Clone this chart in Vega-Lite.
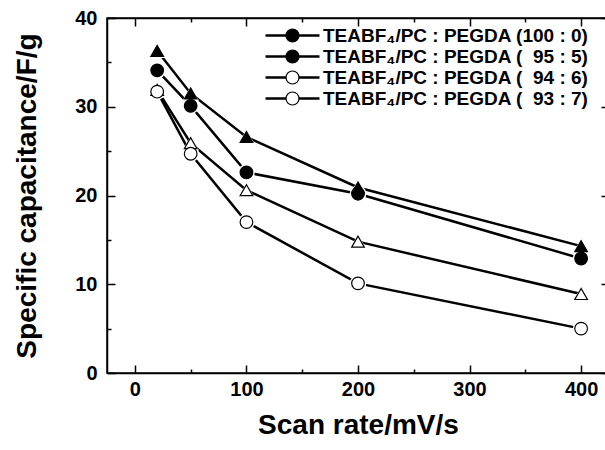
{
  "$schema": "https://vega.github.io/schema/vega-lite/v6.json",
  "autosize": "none",
  "width": 502,
  "height": 355,
  "padding": {"left": 107, "top": 18, "right": 0, "bottom": 77},
  "background": "white",
  "config": {
    "font": "Liberation Sans",
    "view": {"stroke": "black", "strokeWidth": 1.5}
  },
  "data": {
    "values": [
      {"s": "TEABF₄/PC : PEGDA (100 : 0)", "x": 20, "y": 36.3},
      {"s": "TEABF₄/PC : PEGDA (100 : 0)", "x": 50, "y": 31.5},
      {"s": "TEABF₄/PC : PEGDA (100 : 0)", "x": 100, "y": 26.6},
      {"s": "TEABF₄/PC : PEGDA (100 : 0)", "x": 200, "y": 20.9},
      {"s": "TEABF₄/PC : PEGDA (100 : 0)", "x": 400, "y": 14.3},
      {"s": "TEABF₄/PC : PEGDA (\u00a0\u00a095 : 5)", "x": 20, "y": 34.1},
      {"s": "TEABF₄/PC : PEGDA (\u00a0\u00a095 : 5)", "x": 50, "y": 30.1},
      {"s": "TEABF₄/PC : PEGDA (\u00a0\u00a095 : 5)", "x": 100, "y": 22.6},
      {"s": "TEABF₄/PC : PEGDA (\u00a0\u00a095 : 5)", "x": 200, "y": 20.2},
      {"s": "TEABF₄/PC : PEGDA (\u00a0\u00a095 : 5)", "x": 400, "y": 12.9},
      {"s": "TEABF₄/PC : PEGDA (\u00a0\u00a094 : 6)", "x": 20, "y": 31.9},
      {"s": "TEABF₄/PC : PEGDA (\u00a0\u00a094 : 6)", "x": 50, "y": 25.9},
      {"s": "TEABF₄/PC : PEGDA (\u00a0\u00a094 : 6)", "x": 100, "y": 20.6},
      {"s": "TEABF₄/PC : PEGDA (\u00a0\u00a094 : 6)", "x": 200, "y": 14.8},
      {"s": "TEABF₄/PC : PEGDA (\u00a0\u00a094 : 6)", "x": 400, "y": 8.9},
      {"s": "TEABF₄/PC : PEGDA (\u00a0\u00a093 : 7)", "x": 20, "y": 31.7},
      {"s": "TEABF₄/PC : PEGDA (\u00a0\u00a093 : 7)", "x": 50, "y": 24.7},
      {"s": "TEABF₄/PC : PEGDA (\u00a0\u00a093 : 7)", "x": 100, "y": 17.0},
      {"s": "TEABF₄/PC : PEGDA (\u00a0\u00a093 : 7)", "x": 200, "y": 10.1},
      {"s": "TEABF₄/PC : PEGDA (\u00a0\u00a093 : 7)", "x": 400, "y": 5.0}
    ]
  },
  "resolve": {
    "axis": {"x": "independent", "y": "independent"}
  },
  "layer": [
    {
      "mark": {"type": "line", "strokeWidth": 2.5},
      "encoding": {
        "x": {
          "field": "x", "type": "quantitative",
          "scale": {"domain": [-25, 425], "nice": false, "zero": false},
          "axis": {
            "orient": "bottom",
            "values": [0, 50, 100, 150, 200, 250, 300, 350, 400],
            "labelExpr": "datum.value % 100 === 0 ? datum.label : ''",
            "tickSize": {"condition": {"test": "datum.value % 100 === 0", "value": -8}, "value": -4},
            "tickColor": "black", "tickWidth": 1.5,
            "domainColor": "black", "domainWidth": 1.5,
            "grid": false,
            "labelFont": "Liberation Sans", "labelFontWeight": "bold", "labelFontSize": 20, "labelColor": "black",
            "labelPadding": 14,
            "title": "Scan rate/mV/s",
            "titleFont": "Liberation Sans", "titleFontWeight": "bold", "titleFontSize": 28, "titleColor": "black",
            "titlePadding": 12
          }
        },
        "y": {
          "field": "y", "type": "quantitative",
          "scale": {"domain": [0, 40], "nice": false},
          "axis": {
            "orient": "left",
            "values": [0, 5, 10, 15, 20, 25, 30, 35, 40],
            "labelExpr": "datum.value % 10 === 0 ? datum.label : ''",
            "tickSize": {"condition": {"test": "datum.value % 10 === 0", "value": -8}, "value": -4},
            "tickColor": "black", "tickWidth": 1.5,
            "domainColor": "black", "domainWidth": 1.5,
            "grid": false,
            "labelFont": "Liberation Sans", "labelFontWeight": "bold", "labelFontSize": 20, "labelColor": "black",
            "labelPadding": 18,
            "title": "Specific capacitance/F/g",
            "titleFont": "Liberation Sans", "titleFontWeight": "bold", "titleFontSize": 28, "titleColor": "black",
            "titlePadding": 33
          }
        },
        "stroke": {
          "field": "s", "type": "nominal",
          "sort": ["TEABF₄/PC : PEGDA (100 : 0)", "TEABF₄/PC : PEGDA (\u00a0\u00a095 : 5)", "TEABF₄/PC : PEGDA (\u00a0\u00a094 : 6)", "TEABF₄/PC : PEGDA (\u00a0\u00a093 : 7)"],
          "scale": {"range": ["black", "black", "black", "black"]},
          "legend": {
            "title": null,
            "orient": "none",
            "legendX": 176,
            "legendY": 8,
            "symbolType": "M-4.15,0H-0.55M0.55,0H4.15",
            "symbolSize": 169,
            "symbolStrokeWidth": 2.5,
            "symbolStrokeColor": "black",
            "labelOffset": 21,
            "rowPadding": 1,
            "labelFont": "Liberation Sans", "labelFontWeight": "bold", "labelFontSize": 19, "labelColor": "black",
            "labelLimit": 400
          }
        }
      }
    },
    {
      "mark": {"type": "point", "filled": true, "color": "white", "opacity": 1, "size": 280},
      "encoding": {
        "x": {
          "field": "x", "type": "quantitative",
          "axis": {
            "orient": "top",
            "values": [0, 50, 100, 150, 200, 250, 300, 350, 400],
            "labels": false, "title": null, "grid": false,
            "tickSize": {"condition": {"test": "datum.value % 100 === 0", "value": -8}, "value": -4},
            "tickColor": "black", "tickWidth": 1.5,
            "domainColor": "black", "domainWidth": 1.5
          }
        },
        "y": {
          "field": "y", "type": "quantitative",
          "axis": {
            "orient": "right",
            "values": [0, 5, 10, 15, 20, 25, 30, 35, 40],
            "labels": false, "title": null, "grid": false,
            "tickSize": {"condition": {"test": "datum.value % 10 === 0", "value": -8}, "value": -4},
            "tickColor": "black", "tickWidth": 1.5,
            "domainColor": "black", "domainWidth": 1.5
          }
        },
        "shape": {
          "field": "s", "type": "nominal",
          "sort": {"op": "max", "field": "y", "order": "descending"},
          "scale": {"range": ["triangle-up", "circle", "triangle-up", "circle"]},
          "legend": null
        }
      }
    },
    {
      "mark": {"type": "point", "filled": true, "stroke": "black", "strokeWidth": 1.2, "opacity": 1, "size": 160},
      "encoding": {
        "x": {"field": "x", "type": "quantitative", "axis": null},
        "y": {"field": "y", "type": "quantitative", "axis": null},
        "shape": {
          "field": "s", "type": "nominal",
          "sort": {"op": "max", "field": "y", "order": "descending"},
          "scale": {"range": ["triangle-up", "circle", "triangle-up", "circle"]},
          "legend": {
            "title": null,
            "orient": "none",
            "legendX": 176,
            "legendY": 8,
            "symbolSize": 169,
            "symbolStrokeWidth": 1.2,
            "symbolStrokeColor": "black",
            "labelOffset": 21,
            "rowPadding": 1,
            "labelOpacity": 0,
            "labelFont": "Liberation Sans", "labelFontWeight": "bold", "labelFontSize": 19, "labelColor": "black",
            "labelLimit": 400
          }
        },
        "fill": {
          "field": "s", "type": "nominal",
          "sort": {"op": "max", "field": "y", "order": "descending"},
          "scale": {"range": ["black", "black", "white", "white"]},
          "legend": {
            "title": null,
            "orient": "none",
            "legendX": 176,
            "legendY": 8,
            "symbolSize": 169,
            "symbolStrokeWidth": 1.2,
            "symbolStrokeColor": "black",
            "labelOffset": 21,
            "rowPadding": 1,
            "labelOpacity": 0,
            "labelFont": "Liberation Sans", "labelFontWeight": "bold", "labelFontSize": 19, "labelColor": "black",
            "labelLimit": 400
          }
        }
      }
    }
  ]
}
